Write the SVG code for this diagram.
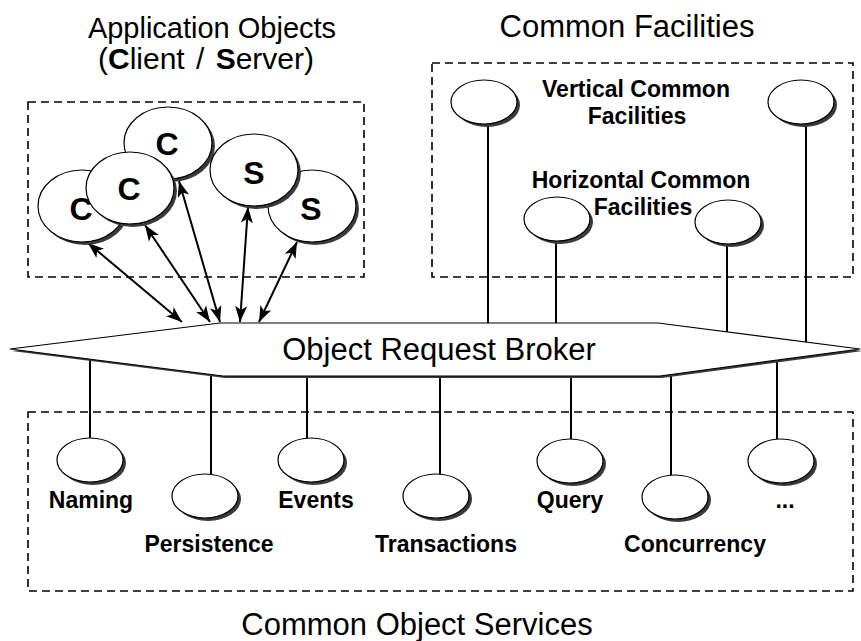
<svg xmlns="http://www.w3.org/2000/svg" width="861" height="641" viewBox="0 0 861 641">
<style>
.box{fill:none;stroke:#000;stroke-width:1.6;stroke-dasharray:8 5}
.sh{fill:#3a3a3a}
.el{fill:#fff;stroke:#000;stroke-width:1.2}
.ln{stroke:#000;stroke-width:2;fill:none}
.ar{stroke:#000;stroke-width:2;fill:none;marker-start:url(#ah);marker-end:url(#ah)}
.t{font-family:"Liberation Sans",Arial,sans-serif;fill:#000}
.title{font-size:31px;text-anchor:middle}
.lbl{font-size:23px;font-weight:bold;text-anchor:middle}
.big{font-size:32px;font-weight:bold;text-anchor:middle}
</style>
<defs>
<marker id="ah" viewBox="0 0 16 12" refX="16" refY="6" markerWidth="16" markerHeight="12" markerUnits="userSpaceOnUse" orient="auto-start-reverse">
<path d="M0,0 L16,6 L0,12 L4,6 z" fill="#000"/>
</marker>
</defs>
<rect width="861" height="641" fill="#fff"/>

<!-- Boxes -->
<rect class="box" x="28" y="102" width="336" height="175"/>
<rect class="box" x="432" y="63" width="421" height="214"/>
<rect class="box" x="28" y="412" width="825" height="179"/>

<!-- Titles -->
<text class="t title" x="212" y="38" style="font-size:29px">Application Objects</text>
<text class="t title" x="206" y="69" style="font-size:30px;word-spacing:3px">(<tspan font-weight="bold">C</tspan>lient / <tspan font-weight="bold">S</tspan>erver)</text>
<text class="t title" x="627" y="37">Common Facilities</text>
<text class="t title" x="417" y="635">Common Object Services</text>

<!-- Connectors -->
<g id="connectors">
<line class="ln" x1="488" y1="124" x2="488" y2="323"/>
<line class="ln" x1="556" y1="241" x2="556" y2="323"/>
<line class="ln" x1="727" y1="244" x2="727" y2="332"/>
<line class="ln" x1="806" y1="124" x2="806" y2="342"/>
<line class="ln" x1="90" y1="359" x2="90" y2="438"/>
<line class="ln" x1="211" y1="376" x2="211" y2="474"/>
<line class="ln" x1="307" y1="376" x2="307" y2="438"/>
<line class="ln" x1="440" y1="376" x2="440" y2="474"/>
<line class="ln" x1="571" y1="376" x2="571" y2="439"/>
<line class="ln" x1="671" y1="376" x2="671" y2="475"/>
<line class="ln" x1="777" y1="360" x2="777" y2="439"/>
<line class="ar" x1="88" y1="243" x2="182" y2="322"/>
<line class="ar" x1="145" y1="225" x2="210" y2="322"/>
<line class="ar" x1="179" y1="181" x2="220" y2="322"/>
<line class="ar" x1="248" y1="207" x2="240" y2="322"/>
<line class="ar" x1="297" y1="242" x2="259" y2="322"/>
</g>

<!-- ORB -->
<g id="orb">
<polygon class="sh" points="12,351 222,325 660,325 862,351 662,378 225,378"/>
<polygon class="el" points="10,349 220,323 658,323 860,349 660,376 223,376"/>
<text class="t title" x="439" y="360">Object Request Broker</text>
</g>

<!-- Application objects -->
<g id="client1">
<ellipse class="sh" cx="85" cy="209" rx="44" ry="36"/>
<ellipse class="el" cx="82" cy="206" rx="44" ry="36"/>
<text class="t big" x="81" y="220">C</text>
</g>
<g id="client3">
<ellipse class="sh" cx="171" cy="146" rx="44" ry="36"/>
<ellipse class="el" cx="168" cy="143" rx="44" ry="36"/>
<text class="t big" x="167" y="155">C</text>
</g>
<g id="client2">
<ellipse class="sh" cx="133" cy="191" rx="44" ry="36"/>
<ellipse class="el" cx="130" cy="188" rx="44" ry="36"/>
<text class="t big" x="129" y="200">C</text>
</g>
<g id="server2">
<ellipse class="sh" cx="315" cy="209" rx="44" ry="36"/>
<ellipse class="el" cx="312" cy="206" rx="44" ry="36"/>
<text class="t big" x="311" y="220">S</text>
</g>
<g id="server1">
<ellipse class="sh" cx="257" cy="173" rx="44" ry="36"/>
<ellipse class="el" cx="254" cy="170" rx="44" ry="36"/>
<text class="t big" x="254" y="184">S</text>
</g>

<!-- Common facilities -->
<g id="vcf-left">
<ellipse class="sh" cx="487" cy="105" rx="33" ry="22"/>
<ellipse class="el" cx="484" cy="102" rx="33" ry="22"/>
</g>
<g id="vcf-right">
<ellipse class="sh" cx="804" cy="105" rx="33" ry="22"/>
<ellipse class="el" cx="801" cy="102" rx="33" ry="22"/>
</g>
<g id="hcf-left">
<ellipse class="sh" cx="560" cy="222" rx="33" ry="22"/>
<ellipse class="el" cx="557" cy="219" rx="33" ry="22"/>
</g>
<g id="hcf-right">
<ellipse class="sh" cx="731" cy="225" rx="33" ry="22"/>
<ellipse class="el" cx="728" cy="222" rx="33" ry="22"/>
</g>
<g id="vcf-label">
<text class="t lbl" x="636" y="97">Vertical Common</text>
<text class="t lbl" x="637" y="124">Facilities</text>
</g>
<g id="hcf-label">
<text class="t lbl" x="641" y="188">Horizontal Common</text>
<text class="t lbl" x="643" y="215">Facilities</text>
</g>

<!-- Common object services -->
<g id="naming">
<ellipse class="sh" cx="93" cy="463" rx="33" ry="22"/>
<ellipse class="el" cx="90" cy="460" rx="33" ry="22"/>
<text class="t lbl" x="91" y="508">Naming</text>
</g>
<g id="persistence">
<ellipse class="sh" cx="208" cy="499" rx="33" ry="22"/>
<ellipse class="el" cx="205" cy="496" rx="33" ry="22"/>
<text class="t lbl" x="209" y="552">Persistence</text>
</g>
<g id="events">
<ellipse class="sh" cx="314" cy="463" rx="33" ry="22"/>
<ellipse class="el" cx="311" cy="460" rx="33" ry="22"/>
<text class="t lbl" x="316" y="508">Events</text>
</g>
<g id="transactions">
<ellipse class="sh" cx="439" cy="499" rx="33" ry="22"/>
<ellipse class="el" cx="436" cy="496" rx="33" ry="22"/>
<text class="t lbl" x="446" y="552">Transactions</text>
</g>
<g id="query">
<ellipse class="sh" cx="573" cy="464" rx="33" ry="22"/>
<ellipse class="el" cx="570" cy="461" rx="33" ry="22"/>
<text class="t lbl" x="570" y="508">Query</text>
</g>
<g id="concurrency">
<ellipse class="sh" cx="678" cy="500" rx="33" ry="22"/>
<ellipse class="el" cx="675" cy="497" rx="33" ry="22"/>
<text class="t lbl" x="695" y="552">Concurrency</text>
</g>
<g id="more">
<ellipse class="sh" cx="784" cy="464" rx="33" ry="22"/>
<ellipse class="el" cx="781" cy="461" rx="33" ry="22"/>
<text class="t lbl" x="785" y="508">...</text>
</g>
</svg>
